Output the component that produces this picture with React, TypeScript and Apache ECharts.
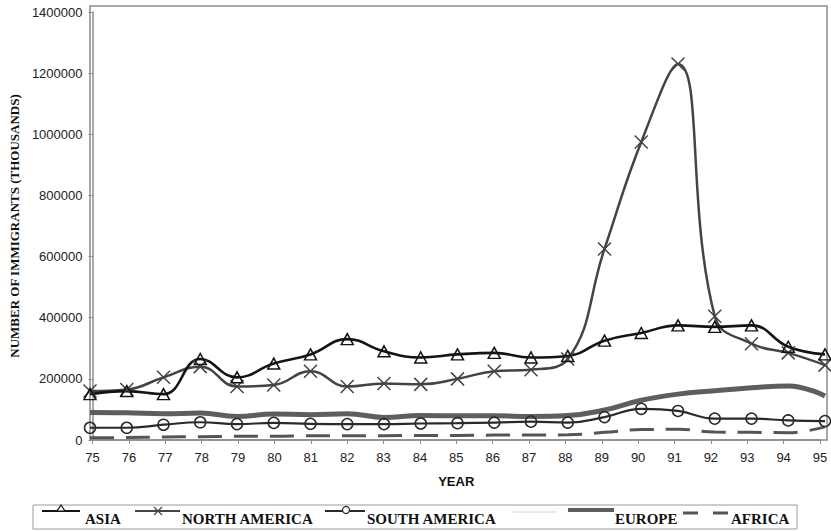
import React, { useEffect, useRef } from "react";
import * as echarts from "echarts";

// Immigration by region of origin, 1975–1995 (thousands)
const years = ["75", "76", "77", "78", "79", "80", "81", "82", "83", "84", "85", "86", "87", "88", "89", "90", "91", "92", "93", "94", "95"];
const asia = [150000, 160000, 150000, 265000, 205000, 250000, 280000, 330000, 290000, 270000, 280000, 285000, 270000, 275000, 325000, 350000, 375000, 370000, 375000, 305000, 280000];
const northAmerica = [160000, 165000, 205000, 240000, 175000, 180000, 225000, 175000, 185000, 182000, 200000, 225000, 230000, 265000, 625000, 975000, 1230000, 405000, 315000, 285000, 245000];
const southAmerica = [40000, 40000, 50000, 58000, 52000, 56000, 53000, 52000, 52000, 54000, 55000, 57000, 60000, 57000, 75000, 102000, 95000, 70000, 70000, 64000, 62000];
const europe = [90000, 89000, 86000, 88000, 77000, 85000, 83000, 86000, 74000, 80000, 79000, 79000, 77000, 80000, 98000, 130000, 150000, 161000, 171000, 177000, 144000];
const africa = [7000, 8000, 10000, 11000, 12000, 12000, 14000, 14000, 14000, 15000, 15000, 16000, 16000, 17000, 25000, 34000, 35000, 26000, 25000, 24000, 43000];

const yTicks = { min: 0, max: 1400000, interval: 200000 };

const SANS = "'Liberation Sans', Arial, sans-serif";
const SERIF = "'Liberation Serif', 'Times New Roman', serif";
const CROSS = "path://M0,0L10,10M10,0L0,10";
const SMOOTH = 0.45;

const C_ASIA = "#141414";
const C_NA = "#444444";
const C_SA = "#2a2a2a";
const C_EU = "#5e5e5e";
const C_AF = "#555555";

// Legend row drawn as plain shapes and text inside its frame
function legendGraphics() {
  const ly = 511;
  const txt = (text: string, x: number) => ({
    type: "text",
    silent: true,
    style: {
      text,
      x,
      y: 519,
      verticalAlign: "middle",
      fontFamily: SERIF,
      fontWeight: "bold",
      fontSize: 15,
      fill: "#111",
    },
  });
  const seg = (x1: number, x2: number, y: number, stroke: string, lineWidth: number) => ({
    type: "line",
    silent: true,
    shape: { x1, y1: y, x2, y2: y },
    style: { stroke, lineWidth },
  });
  return [
    {
      type: "rect",
      silent: true,
      shape: { x: 33, y: 505, width: 764, height: 24 },
      style: { fill: "none", stroke: "#9a9a9a", lineWidth: 1 },
    },
    // ASIA
    seg(42, 80, ly, C_ASIA, 2.2),
    {
      type: "polygon",
      silent: true,
      shape: { points: [[61, 505], [57, 511], [65, 511]] },
      style: { fill: "#fff", stroke: C_ASIA, lineWidth: 1.2 },
    },
    txt("ASIA", 85),
    // NORTH AMERICA
    seg(135, 180, ly, C_NA, 2.2),
    {
      type: "line",
      silent: true,
      shape: { x1: 154, y1: 507, x2: 162, y2: 515 },
      style: { stroke: C_NA, lineWidth: 1.2 },
    },
    {
      type: "line",
      silent: true,
      shape: { x1: 162, y1: 507, x2: 154, y2: 515 },
      style: { stroke: C_NA, lineWidth: 1.2 },
    },
    txt("NORTH AMERICA", 182),
    // SOUTH AMERICA
    seg(325, 365, ly, C_SA, 2.2),
    {
      type: "circle",
      silent: true,
      shape: { cx: 346, cy: 510, r: 3.5 },
      style: { fill: "#fff", stroke: C_SA, lineWidth: 1.2 },
    },
    txt("SOUTH AMERICA", 367),
    // unlabelled entry
    seg(513, 557, 512, "#e2e2e2", 1.5),
    // EUROPE
    seg(568, 614, 510, C_EU, 4),
    txt("EUROPE", 615),
    // AFRICA
    seg(683, 698, 513, C_AF, 3),
    seg(713, 728, 513, C_AF, 3),
    txt("AFRICA", 731),
  ];
}

export default function App() {
  const ref = useRef<HTMLDivElement>(null);

  useEffect(() => {
    if (!ref.current) return;
    const chart = echarts.init(ref.current, null, { renderer: "svg" });

    chart.setOption({
      animation: false,
      backgroundColor: "#ffffff",
      grid: [
        { left: 85, right: 11, top: 12, bottom: 91 },
        { left: 90, right: 6, top: 12, bottom: 91 },
      ],
      xAxis: [
        {
          gridIndex: 0,
          type: "category",
          data: years,
          boundaryGap: false,
          name: "YEAR",
          nameLocation: "middle",
          nameGap: 35,
          nameTextStyle: { fontFamily: SANS, fontWeight: "bold", fontSize: 13, color: "#111" },
          axisLine: { lineStyle: { color: "#8c8c8c", width: 1.5 } },
          axisTick: { show: true, length: 4, lineStyle: { color: "#8c8c8c" } },
          axisLabel: { fontFamily: SANS, fontSize: 13, color: "#222", margin: 11 },
          splitLine: { show: false },
        },
        { gridIndex: 1, type: "category", data: years, boundaryGap: false, show: false },
      ],
      yAxis: [
        {
          gridIndex: 0,
          type: "value",
          ...yTicks,
          name: "NUMBER OF IMMIGRANTS (THOUSANDS)",
          nameLocation: "middle",
          nameRotate: 90,
          nameGap: 65,
          nameTextStyle: { fontFamily: SERIF, fontWeight: "bold", fontSize: 13, color: "#111" },
          axisLine: { show: true, lineStyle: { color: "#8c8c8c", width: 1.5 } },
          axisTick: { show: true, length: 4, lineStyle: { color: "#8c8c8c" } },
          axisLabel: {
            fontFamily: SANS,
            fontSize: 13,
            color: "#222",
            margin: 10,
            formatter: (v: number) => String(v),
          },
          splitLine: { show: false },
        },
        { gridIndex: 1, type: "value", ...yTicks, show: false, splitLine: { show: false } },
      ],
      graphic: [
        {
          type: "rect",
          silent: true,
          shape: { x: 90, y: 6, width: 737, height: 434 },
          style: { fill: "none", stroke: "#8c8c8c", lineWidth: 1.5 },
        },
        ...legendGraphics(),
      ],
      series: [
        {
          name: "EUROPE",
          type: "line",
          xAxisIndex: 1,
          yAxisIndex: 1,
          data: europe,
          smooth: SMOOTH,
          symbol: "none",
          color: C_EU,
          lineStyle: { color: C_EU, width: 5 },
        },
        {
          name: "AFRICA",
          type: "line",
          xAxisIndex: 1,
          yAxisIndex: 1,
          data: africa,
          smooth: SMOOTH,
          symbol: "none",
          color: C_AF,
          lineStyle: { color: C_AF, width: 3, type: [24, 12] },
        },
        {
          name: "SOUTH AMERICA",
          type: "line",
          xAxisIndex: 1,
          yAxisIndex: 1,
          data: southAmerica,
          smooth: SMOOTH,
          symbol: "circle",
          symbolSize: 11,
          showAllSymbol: true,
          color: C_SA,
          lineStyle: { color: C_SA, width: 2.2 },
          itemStyle: { color: "rgba(255,255,255,0)", borderColor: C_SA, borderWidth: 1.5 },
        },
        {
          name: "NORTH AMERICA",
          type: "line",
          xAxisIndex: 1,
          yAxisIndex: 1,
          data: northAmerica,
          smooth: SMOOTH,
          symbol: CROSS,
          symbolSize: 13,
          showAllSymbol: true,
          color: C_NA,
          lineStyle: { color: C_NA, width: 2.5 },
          itemStyle: { color: "rgba(255,255,255,0)", borderColor: C_NA, borderWidth: 1.5 },
        },
        {
          name: "ASIA",
          type: "line",
          xAxisIndex: 1,
          yAxisIndex: 1,
          data: asia,
          smooth: SMOOTH,
          symbol: "triangle",
          symbolSize: [12, 11],
          showAllSymbol: true,
          color: C_ASIA,
          lineStyle: { color: C_ASIA, width: 2.6 },
          itemStyle: { color: "rgba(255,255,255,0)", borderColor: C_ASIA, borderWidth: 1.5 },
        },
      ],
    });

    return () => chart.dispose();
  }, []);

  return (
    <div
      ref={ref}
      style={{ position: "fixed", left: 0, top: 0, width: 831, height: 531, background: "#fff" }}
    />
  );
}
